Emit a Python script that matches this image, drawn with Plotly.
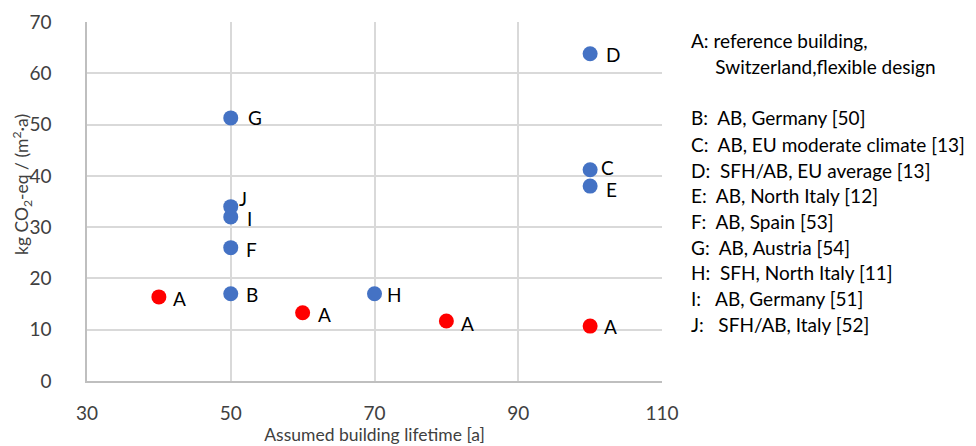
import plotly.graph_objects as go

# Reference building (A) at different assumed lifetimes
ref_lifetime = [40, 60, 80, 100]
ref_emissions = [16.4, 13.3, 11.7, 10.7]
ref_labels = ["A", "A", "A", "A"]

# Literature cases B-J
lit_labels = ["B", "C", "D", "E", "F", "G", "H", "I", "J"]
lit_lifetime = [50, 100, 100, 100, 50, 50, 70, 50, 50]
lit_emissions = [17.0, 41.2, 63.8, 38.0, 26.0, 51.3, 17.0, 32.0, 34.0]

# Descriptions shown beside the chart
legend_lines = [
    "A: reference building,",
    "     Switzerland,flexible design",
    "",
    "B:  AB, Germany [50]",
    "C:  AB, EU moderate climate [13]",
    "D:  SFH/AB, EU average [13]",
    "E:  AB, North Italy [12]",
    "F:  AB, Spain [53]",
    "G:  AB, Austria [54]",
    "H:  SFH, North Italy [11]",
    "I:   AB, Germany [51]",
    "J:   SFH/AB, Italy [52]",
]

X_TITLE = "Assumed building lifetime [a]"
Y_TITLE = "kg CO<sub>2</sub>-eq / (m<sup>2</sup>·a)"

FONT = "Lato"
FS = 19
TITLE_FS = 17.5
BLUE = "#4472C4"
RED = "#FF0000"
AXIS_TEXT = "#404040"

# Pixel offsets of the point labels (x, y)
ref_offsets = [(21, -2), (22, -2), (21, -2), (20, 0)]
lit_offsets = {
    "B": (21, -1), "C": (17, 2), "D": (23, -1), "E": (21, -3), "F": (21, -2),
    "G": (24, 0), "H": (20, -1), "I": (19, -2), "J": (12, 8),
}

fig = go.Figure()
fig.add_trace(go.Scatter(
    x=ref_lifetime, y=ref_emissions, mode="markers",
    marker=dict(color=RED, size=15), showlegend=False, hoverinfo="skip",
))
fig.add_trace(go.Scatter(
    x=lit_lifetime, y=lit_emissions, mode="markers",
    marker=dict(color=BLUE, size=15), showlegend=False, hoverinfo="skip",
))

annotations = []
for x, y, t, (dx, dy) in zip(ref_lifetime, ref_emissions, ref_labels, ref_offsets):
    annotations.append(dict(x=x, y=y, text=t, showarrow=False, xshift=dx, yshift=dy,
                            font=dict(family=FONT, size=FS, color="black")))
for x, y, t in zip(lit_lifetime, lit_emissions, lit_labels):
    dx, dy = lit_offsets[t]
    annotations.append(dict(x=x, y=y, text=t, showarrow=False, xshift=dx, yshift=dy,
                            font=dict(family=FONT, size=FS, color="black")))

# Description block to the right of the plot area
plot_top, plot_bottom = 22, 381
line_y = [40, 66, 92, 117, 144, 170, 195, 221, 247, 272, 298, 324]
for text, py in zip(legend_lines, line_y):
    if not text:
        continue
    annotations.append(dict(
        xref="paper", yref="paper", x=1, y=(plot_bottom - py) / (plot_bottom - plot_top),
        xanchor="left", yanchor="middle", xshift=27, text=text.replace(" ", "&nbsp;"),
        showarrow=False, align="left", font=dict(family=FONT, size=FS, color="black"),
    ))

# Rotated y-axis title, placed left of the tick labels
annotations.append(dict(
    xref="paper", yref="paper", x=0, y=(plot_bottom - 185) / (plot_bottom - plot_top),
    xanchor="center", yanchor="middle", xshift=-65, textangle=-90,
    text=Y_TITLE, showarrow=False, font=dict(family=FONT, size=TITLE_FS, color=AXIS_TEXT),
))

fig.update_layout(
    width=976, height=446,
    margin=dict(l=87, r=314, t=22, b=65),
    paper_bgcolor="white", plot_bgcolor="white",
    font=dict(family=FONT, size=FS, color=AXIS_TEXT),
    annotations=annotations,
    xaxis=dict(
        range=[30, 110], tickvals=[30, 50, 70, 90, 110],
        showgrid=True, gridcolor="#D9D9D9", gridwidth=1.5,
        showline=True, linecolor="#BFBFBF", linewidth=1.5,
        zeroline=False, ticks="", ticklabelstandoff=14, automargin=False,
        tickfont=dict(size=FS, color=AXIS_TEXT),
        title=dict(text=X_TITLE, standoff=6,
                   font=dict(size=TITLE_FS, color=AXIS_TEXT)),
    ),
    yaxis=dict(
        range=[0, 70], tickvals=[0, 10, 20, 30, 40, 50, 60, 70],
        showgrid=True, gridcolor="#D9D9D9", gridwidth=1.5,
        showline=True, linecolor="#BFBFBF", linewidth=1.5,
        zeroline=False, ticks="", ticklabelstandoff=30, automargin=False,
        tickfont=dict(size=FS, color=AXIS_TEXT),
    ),
)

fig.write_html("out.html")
